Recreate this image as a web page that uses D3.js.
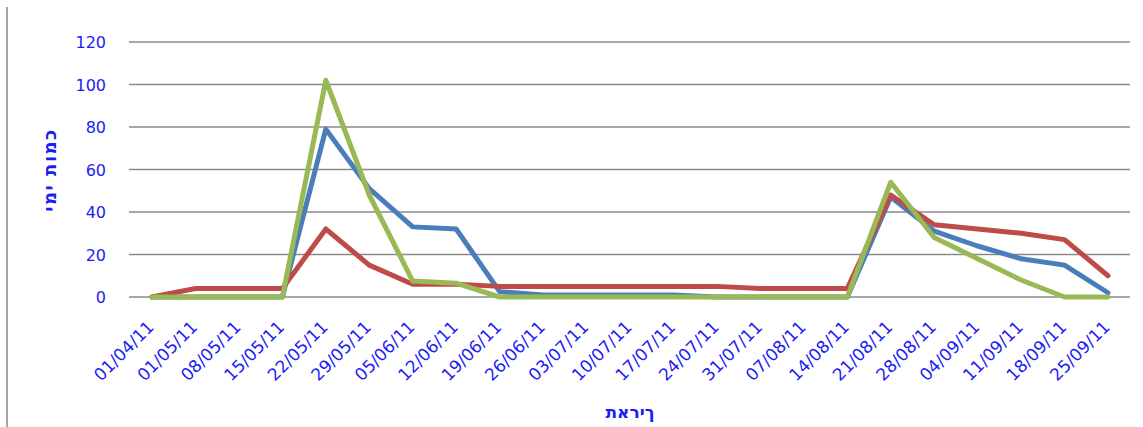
<!DOCTYPE html>
<html>
<head>
<meta charset="utf-8">
<script src="https://cdn.jsdelivr.net/npm/d3@7"></script>
<style>
  body { margin: 0; background: #fff; }
  svg { display: block; }
</style>
</head>
<body>
<script>
const categories = ["01/04/11","01/05/11","08/05/11","15/05/11","22/05/11","29/05/11","05/06/11","12/06/11","19/06/11","26/06/11","03/07/11","10/07/11","17/07/11","24/07/11","31/07/11","07/08/11","14/08/11","21/08/11","28/08/11","04/09/11","11/09/11","18/09/11","25/09/11"];
const seriesBlue  = [0,0,0,0,79,51,33,32,2.5,1,1,1,1,0,0,0,0,47,31,24,18,15,2];
const seriesRed   = [0,4,4,4,32,15,6,6,5,5,5,5,5,5,4,4,4,48,34,32,30,27,10];
const seriesGreen = [0,0,0,0,102,48,7.5,6.5,0,0,0,0,0,0,0,0,0,54,28,18,8,0,0];
const yTicks = [0,20,40,60,80,100,120];
const yTitle = "כמות ימי";
const xTitle = "תאריך";

const W = 1143, H = 427;
const svg = d3.select("body").append("svg").attr("width", W).attr("height", H);

// frame line on left
svg.append("line").attr("x1", 7).attr("x2", 7).attr("y1", 7).attr("y2", H)
  .attr("stroke", "#a6a6a6").attr("stroke-width", 2);

const x = d3.scalePoint().domain(categories).range([152, 1108]);
const y = d3.scaleLinear().domain([0, 120]).range([297, 42]);
const plotLeft = 129, plotRight = 1130;

// gridlines
svg.append("g").selectAll("line").data(yTicks).join("line")
  .attr("x1", plotLeft).attr("x2", plotRight)
  .attr("y1", d => y(d)).attr("y2", d => y(d))
  .attr("stroke", "#8a8a8a").attr("stroke-width", 1.6);

// y axis labels
const yAxis = d3.axisLeft(y).tickValues(yTicks).tickSize(0).tickPadding(0);
const gy = svg.append("g").attr("transform", "translate(106,0)").call(yAxis);
gy.select(".domain").remove();
gy.selectAll("text").attr("font-family", "DejaVu Sans, sans-serif").attr("font-size", 16)
  .attr("fill", "#1c1cf5").attr("dy", "0.36em");

// x axis labels
const xAxis = d3.axisBottom(x).tickSize(0).tickPadding(0);
const gx = svg.append("g").call(xAxis);
gx.select(".domain").remove();
gx.selectAll(".tick").attr("transform", d => `translate(${x(d) + 3},328)`);
gx.selectAll("text")
  .attr("font-family", "DejaVu Sans, sans-serif").attr("font-size", 17)
  .attr("fill", "#1c1cf5").attr("text-anchor", "end")
  .attr("x", 0).attr("y", 0).attr("dy", 0)
  .attr("transform", "rotate(-45)");

// lines
const line = d3.line().x((d, i) => x(categories[i])).y(d => y(d));
const series = [
  { values: seriesBlue, color: "#4a7ebb" },
  { values: seriesRed, color: "#be4b48" },
  { values: seriesGreen, color: "#98b954" }
];
svg.append("g").selectAll("path").data(series).join("path")
  .attr("d", d => line(d.values))
  .attr("fill", "none").attr("stroke", d => d.color)
  .attr("stroke-width", 5).attr("stroke-linejoin", "round").attr("stroke-linecap", "round");

// titles
svg.append("text").attr("x", 630).attr("y", 418).attr("text-anchor", "middle")
  .style("direction", "ltr").style("unicode-bidi", "bidi-override")
  .attr("font-family", "DejaVu Sans, sans-serif").attr("font-size", 17).attr("font-weight", "bold")
  .attr("fill", "#1c1cf5").text(xTitle);

svg.append("text").attr("transform", "translate(56,170) rotate(-90)").attr("text-anchor", "middle")
  .attr("font-family", "DejaVu Sans, sans-serif").attr("font-size", 18).attr("font-weight", "bold")
  .attr("letter-spacing", 1.5)
  .attr("fill", "#1c1cf5").text(yTitle);
</script>
</body>
</html>
